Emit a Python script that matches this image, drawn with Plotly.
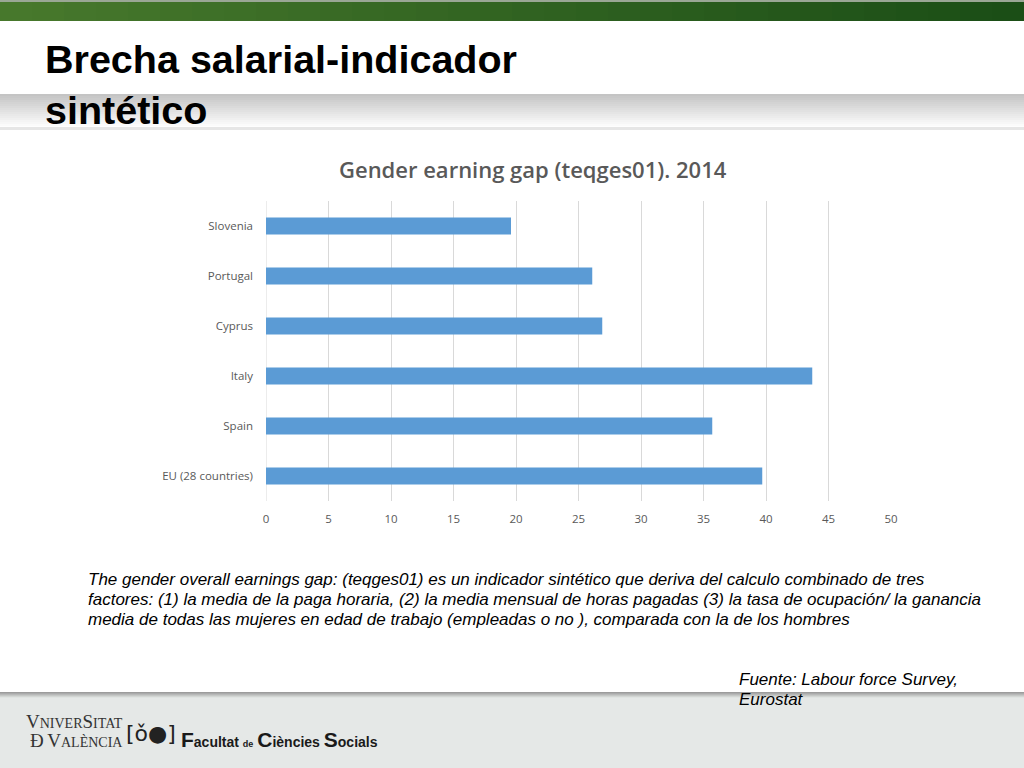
import plotly.graph_objects as go

# ---------------- data ----------------
countries = ["Slovenia", "Portugal", "Cyprus", "Italy", "Spain", "EU (28 countries)"]
gap_values = [19.6, 26.1, 26.9, 43.7, 35.7, 39.7]
x_ticks = [0, 5, 10, 15, 20, 25, 30, 35, 40, 45, 50]

chart_title = "Gender earning gap (teqges01). 2014"
slide_title = "Brecha salarial-indicador<br>sintético"
body_lines = [
    "The gender overall earnings gap: (teqges01) es un indicador sintético que deriva del calculo combinado de tres",
    "factores: (1) la media de la paga horaria, (2) la media mensual de horas pagadas (3) la tasa de ocupación/ la ganancia",
    "media de todas las mujeres en edad de trabajo (empleadas o no ), comparada con la de los hombres",
]
source_lines = ["Fuente: Labour force Survey,", "Eurostat"]

# ---------------- layout geometry (pixels) ----------------
W, H = 1024, 768
L, R, T, B = 266, 891, 201, 501


def px(x):
    return (x - L) / (R - L)


def py(y):
    return (B - y) / (B - T)


def hexmix(c1, c2, t):
    a = [int(c1[i:i + 2], 16) for i in (1, 3, 5)]
    b = [int(c2[i:i + 2], 16) for i in (1, 3, 5)]
    return "#%02x%02x%02x" % tuple(round(a[k] + (b[k] - a[k]) * t) for k in range(3))


shapes = []


def rect(x0, y0, x1, y1, color):
    shapes.append(dict(type="rect", xref="paper", yref="paper", layer="below",
                       x0=px(x0), x1=px(x1), y0=py(y1), y1=py(y0),
                       fillcolor=color, line=dict(width=0)))


# top green bar (horizontal gradient)
n = 32
for i in range(n):
    x0 = W * i / n
    x1 = W * (i + 1) / n + 1
    rect(x0, 2, x1, 21, hexmix("#47782c", "#1b4e16", i / (n - 1)))
rect(0, 0, W, 2, "#9aa795")

# title band shading
m = 16
for i in range(m):
    y0 = 94 + i * 2
    rect(0, y0, W, y0 + 2.2, hexmix("#c4c4c4", "#fbfbfb", i / (m - 1)))
rect(0, 127, W, 130, "#e6e6e6")

# footer band
for i in range(6):
    rect(0, 692 + i, W, 693 + i + 0.2, hexmix("#9c9c9c", "#dfe3e1", i / 5))
rect(0, 698, W, H, "#e5e8e7")

# ---------------- figure ----------------
fig = go.Figure()
fig.add_trace(go.Bar(
    y=countries, x=gap_values, orientation="h",
    marker=dict(color="#5b9bd5", line=dict(width=0)),
    hoverinfo="x+y",
))


def note(text, x, y, size, family="Liberation Sans", color="#000000", xanchor="left", **kw):
    return dict(text=text, x=px(x), y=py(y), xref="paper", yref="paper",
                showarrow=False, xanchor=xanchor, yanchor="middle", align="left",
                font=dict(family=family, size=size, color=color, **kw))


annotations = [
    note(chart_title, 533, 169, 22, family="Open Sans", color="#595959", xanchor="center", weight=600),
    note("<b>" + slide_title + "</b>", 43, 85, 39.5),
]
for i, line in enumerate(body_lines):
    annotations.append(note("<i>" + line + "</i>", 86, 579 + 20 * i, 17))
for i, line in enumerate(source_lines):
    annotations.append(note("<i>" + line + "</i>", 737, 679 + 20 * i, 17))

# logo text
annotations += [
    note("V<span style='font-size:14px'>NIVER</span>S<span style='font-size:14px'>ITAT</span>",
         24, 721, 19, family="Liberation Serif", color="#333333"),
    note("Ð<span style='font-size:14px'> </span>V<span style='font-size:14px'>ALÈNCIA</span>",
         28, 740, 19, family="Liberation Serif", color="#333333"),
    note("[ǒ●]", 151, 733, 22, family="DejaVu Sans", color="#222222", xanchor="center"),
    note("<b><span style='font-size:21px'>F</span>acultat <span style='font-size:9px'>de</span> "
         "<span style='font-size:21px'>C</span>iències <span style='font-size:21px'>S</span>ocials</b>",
         179, 739, 14, color="#1a1a1a"),
]

fig.update_layout(
    width=W, height=H,
    margin=dict(l=L, r=W - R, t=T, b=H - B, pad=0),
    paper_bgcolor="#ffffff", plot_bgcolor="rgba(0,0,0,0)",
    bargap=0.66,
    showlegend=False,
    shapes=shapes,
    annotations=annotations,
    xaxis=dict(range=[0, 50], tickvals=x_ticks, showgrid=True, gridcolor="#d9d9d9",
               gridwidth=1, zeroline=False, showline=False, ticks="",
               ticklabelstandoff=9,
               tickfont=dict(family="Open Sans", size=11.5, color="#595959"), fixedrange=True),
    yaxis=dict(autorange="reversed", showgrid=False, zeroline=False, showline=False,
               ticks="", ticklabelstandoff=12,
               tickfont=dict(family="Open Sans", size=11.5, color="#595959"), fixedrange=True),
)
# vertical 0 gridline
fig.add_vline(x=0, line=dict(color="#d9d9d9", width=1), layer="below")

fig.write_html("out.html", config={"displayModeBar": False},
               post_script="document.body.style.margin='0';")
